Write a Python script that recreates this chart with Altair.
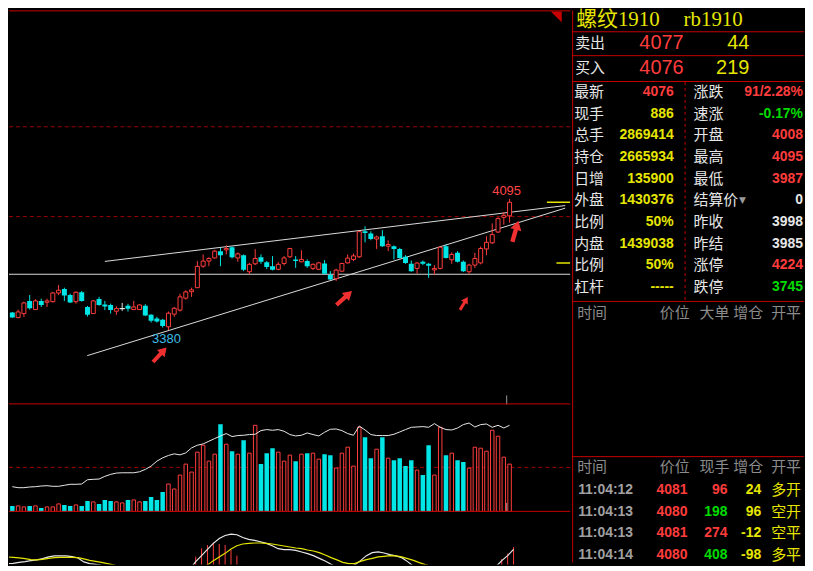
import altair as alt
import pandas as pd

# ------------------------------------------------------------------ data
open_ = [3476, 3448, 3470, 3539, 3492, 3539, 3532, 3535, 3582, 3604,
         3571, 3535, 3586, 3506, 3470, 3550, 3519, 3517, 3483, 3497,
         3512, 3492, 3492, 3512, 3463, 3443, 3436, 3398, 3467, 3489,
         3554, 3589, 3611, 3728, 3756, 3773, 3810, 3817, 3831, 3773,
         3788, 3698, 3741, 3777, 3749, 3728, 3711, 3743, 3779, 3765,
         3752, 3756, 3716, 3711, 3743, 3680, 3660, 3701, 3746, 3765,
         3779, 3918, 3906, 3876, 3891, 3837, 3837, 3822, 3779, 3741,
         3716, 3752, 3741, 3708, 3716, 3837, 3763, 3801, 3752, 3698,
         3734, 3746, 3822, 3855, 3914, 3994, 4002]
high = [3479, 3492, 3535, 3571, 3548, 3551, 3551, 3588, 3626, 3611,
        3578, 3591, 3593, 3512, 3544, 3561, 3539, 3524, 3510, 3528,
        3523, 3539, 3521, 3521, 3467, 3452, 3441, 3481, 3506, 3578,
        3597, 3611, 3756, 3792, 3777, 3817, 3828, 3842, 3835, 3803,
        3792, 3746, 3821, 3792, 3756, 3783, 3750, 3783, 3828, 3783,
        3815, 3765, 3743, 3752, 3761, 3701, 3714, 3746, 3792, 3797,
        3920, 3945, 3918, 3895, 3924, 3869, 3841, 3828, 3788, 3759,
        3750, 3759, 3746, 3734, 3835, 3846, 3804, 3810, 3759, 3741,
        3801, 3835, 3891, 3961, 3994, 4023, 4095]
low = [3447, 3445, 3452, 3492, 3489, 3506, 3506, 3530, 3571, 3539,
       3528, 3524, 3535, 3454, 3468, 3513, 3489, 3470, 3463, 3485,
       3481, 3489, 3489, 3456, 3421, 3421, 3394, 3380, 3452, 3481,
       3546, 3561, 3611, 3719, 3728, 3770, 3728, 3792, 3770, 3752,
       3701, 3684, 3734, 3741, 3712, 3705, 3706, 3732, 3773, 3719,
       3750, 3719, 3707, 3707, 3684, 3653, 3647, 3696, 3743, 3756,
       3773, 3858, 3869, 3822, 3833, 3810, 3765, 3770, 3741, 3698,
       3687, 3734, 3665, 3680, 3711, 3770, 3741, 3748, 3696, 3687,
       3719, 3738, 3788, 3849, 3909, 3954, 3965]
close = [3448, 3479, 3528, 3499, 3539, 3517, 3539, 3582, 3597, 3568,
         3530, 3586, 3539, 3463, 3539, 3517, 3508, 3489, 3497, 3497,
         3496, 3506, 3517, 3459, 3431, 3427, 3402, 3472, 3499, 3561,
         3588, 3599, 3727, 3756, 3770, 3810, 3788, 3824, 3777, 3795,
         3708, 3738, 3770, 3752, 3723, 3708, 3738, 3773, 3824, 3756,
         3765, 3728, 3738, 3746, 3687, 3656, 3707, 3743, 3772, 3784,
         3916, 3909, 3876, 3887, 3837, 3846, 3822, 3773, 3746, 3701,
         3745, 3741, 3730, 3716, 3831, 3773, 3792, 3752, 3701, 3734,
         3770, 3824, 3858, 3900, 3987, 4005, 4076]

volume = [6, 6, 5, 6, 6, 4, 5, 5, 8, 7,
          6, 7, 6, 11, 10, 8, 12, 11, 10, 9,
          12, 12, 10, 11, 15, 12, 20, 28, 23, 37,
          48, 40, 60, 67, 51, 58, 88, 68, 61, 58,
          72, 59, 87, 48, 59, 64, 60, 51, 57, 51,
          58, 59, 59, 53, 58, 57, 44, 59, 65, 46,
          85, 75, 54, 63, 75, 54, 52, 54, 46, 52,
          42, 37, 67, 37, 85, 57, 59, 52, 50, 44,
          65, 64, 61, 82, 76, 55, 48]
vol_ma = [25.3, 24.3, 24.3, 25, 25.3, 26, 26.3, 25.7, 25.7, 26.7,
          27.7, 27.7, 28, 32.3, 32.7, 33, 35.7, 37.7, 39, 39.3,
          39.3, 39.3, 40.3, 42.7, 46, 51, 54.3, 56.7, 58.3, 57.3,
          59.3, 64.3, 67, 68.3, 71, 73.7, 76.3, 78.7, 75.7, 76.7,
          77, 77.7, 78, 81.7, 82.7, 82, 82.7, 81, 77.7, 76.3,
          77, 79.3, 77.7, 76.3, 80, 83, 83.3, 81.7, 78.7, 77,
          86.3, 82.3, 77.7, 76.7, 76.7, 76.7, 78, 80.3, 82.7, 85,
          85.3, 85.7, 85, 88.7, 85, 82.7, 82.3, 84.3, 87.7, 89.3,
          85.3, 87.7, 88.3, 85, 87, 84.3, 87]
vol_level = [44.7]

dif = [38, 38.3, 39.3, 40, 41, 41.7, 43, 44.7, 45.7, 45.7,
       45.7, 45, 43.7, 39.7, 38, 37.3, 36.3, 33.3, 31.3, 29.7,
       25, 22, 19, 15, 10, 5, 2, 2, 6, 14,
       27.3, 32.3, 40, 46, 52.3, 58.3, 63.3, 66.3, 67.7, 67,
       64.3, 62.3, 61.3, 60, 58.3, 56, 53, 52, 52, 51.3,
       49.7, 48, 46, 43.3, 40.7, 37.3, 34.3, 33.3, 33.7, 36.7,
       41, 46, 49, 49.7, 48.7, 47, 45.7, 44, 40, 35.3,
       32, 28.7, 25, 22, 22, 20, 19, 18, 17, 18,
       20, 24, 29.7, 35, 41, 46, 52.3]
dea = [44.7, 44.3, 43.7, 43, 42, 41.7, 42.3, 43.3, 44, 44.3,
       44.3, 44.3, 44, 42.7, 41.3, 40.3, 39.3, 38, 36.7, 35.3,
       34.3, 32.7, 31.3, 30, 27, 24, 21, 19, 18, 19,
       22, 25, 28, 31.7, 36.7, 41, 44.7, 48.3, 52.7, 56,
       57.7, 58.3, 58.7, 58.7, 58.3, 57.7, 56.7, 55.7, 54.7, 53.7,
       53, 51.7, 50.7, 49, 46.7, 44, 41.7, 39.3, 38, 38,
       40.3, 42, 43.3, 44.7, 45.3, 46, 45.7, 44.7, 43, 41.3,
       39, 37, 35.3, 33.7, 32.3, 31.3, 30.3, 29.3, 28, 27,
       27, 27, 28, 29.7, 32.3, 34.3, 36.3]
macd_hist = [0, 0, 0, 0, 0, 0, 0, 0, 0, 0,
             0, 0, 0, 0, 0, 0, 0, 0, 0, 0,
             0, 0, 0, 0, 0, 0, 0, 0, 0, 0,
             30, 35, 45, 53.3, 56.7, 59.3, 57.7, 56.7, 51.7, 46,
             36.7, 30.7, 0, 0, 0, 0, 0, 0, 0, 0,
             0, 0, 0, 0, 0, 0, 0, 0, 0, 0,
             0, 34.3, 35, 35, 30.7, 0, 0, 0, 0, 0,
             0, 0, 0, 0, 0, 0, 0, 0, 0, 0,
             0, 0, 0, 34, 42.7, 48, 54.7]

dashed_levels = [4487, 3998]
solid_level = [3684]
marker_levels = [4076, 3745]
marker_from_k = [92.45, 94.1]
trend_id = ["upper", "upper", "lower", "lower"]
trend_k = [16.0, 95.62, 12.95, 95.62]
trend_p = [3754, 4058, 3241, 4044]
arrow_k = [25.5, 57.4, 78.1, 87.0]
arrow_p = [3246, 3555, 3525, 3918]
arrow_angle = [43, 48, 31, 16]
arrow_len = [20, 21, 15, 22]
cursor_k = [85.5]

title_name = "螺纹1910"
title_code = "rb1910"
quote_labels = ["卖出", "买入"]
quote_price = ["4077", "4076"]
quote_qty = ["44", "219"]
grid_left_labels = ["最新", "现手", "总手", "持仓", "日增", "外盘", "比例", "内盘", "比例", "杠杆"]
grid_left_values = ["4076", "886", "2869414", "2665934", "135900", "1430376", "50%", "1439038", "50%", "-----"]
grid_left_tone = ["rise", "qty", "qty", "qty", "qty", "qty", "qty", "qty", "qty", "qty"]
grid_right_labels = ["涨跌", "速涨", "开盘", "最高", "最低", "结算价", "昨收", "昨结", "涨停", "跌停"]
grid_right_values = ["91/2.28%", "-0.17%", "4008", "4095", "3987", "0", "3998", "3985", "4224", "3745"]
grid_right_tone = ["rise", "fall", "rise", "rise", "rise", "flat", "flat", "flat", "rise", "fall"]
header_top = ["时间", "价位", "大单", "增仓", "开平"]
header_bottom = ["时间", "价位", "现手", "增仓", "开平"]
trade_time = ["11:04:12", "11:04:13", "11:04:13", "11:04:14"]
trade_price = ["4081", "4080", "4081", "4080"]
trade_hand = [96, 198, 274, 408]
trade_hand_tone = ["rise", "fall", "rise", "fall"]
trade_oi = ["24", "96", "-12", "-98"]
trade_kind = ["多开", "空开", "空平", "多平"]

# ------------------------------------------------------------------ style
RED = "#ff3c3c"
CYAN = "#00e5e5"
WHITE = "#e6e6e6"
YELLOW = "#e6e600"
GREEN = "#00dc00"
GRAY = "#8c8c8c"
LINE_RED = "#c80000"
DASH_RED = "#9a0000"
LABEL_BLUE = "#3fbce8"
NUM_FONT = "Liberation Sans Narrow, Liberation Sans, Arial, sans-serif"
PLAIN_FONT = "Liberation Sans, Arial, sans-serif"
CJK_FONT = "Noto Sans CJK SC"
TITLE_FONT = "Liberation Serif, Noto Sans CJK SC"
TONE = {"rise": RED, "fall": GREEN, "flat": WHITE, "qty": YELLOW}

LEFT_W, RIGHT_W = 564, 233
PRICE_H, VOL_H, MACD_H = 396, 107, 52
TOTAL_H = PRICE_H + VOL_H + MACD_H

kscale = alt.Scale(domain=[0.283, 95.62], nice=False, zero=False)
pscale = alt.Scale(domain=[2975.5, 5120.7], nice=False, zero=False)
vscale = alt.Scale(domain=[0, 107], nice=False, zero=False)
mscale = alt.Scale(domain=[37, 89], nice=False, zero=False)

n = len(close)
df = pd.DataFrame({"k": list(range(n)), "open": open_, "high": high, "low": low,
                   "close": close, "volume": volume, "vol_ma": vol_ma,
                   "dif": dif, "dea": dea, "hist": macd_hist})
df["dir"] = ["up" if c > o else ("down" if c < o else "flat") for o, c in zip(open_, close)]
df["top"] = df[["open", "close"]].max(axis=1)
df["bot"] = df[["open", "close"]].min(axis=1)
df["col"] = df["dir"].map({"up": RED, "down": CYAN, "flat": WHITE})

X = alt.X("k:Q", scale=kscale, axis=None)


def PY(field):
    return alt.Y(field, scale=pscale, axis=None)


one = pd.DataFrame({"a": [0]})


def frame_rule(y, width, color=LINE_RED, w=1):
    return alt.Chart(one).mark_rule(color=color, strokeWidth=w).encode(
        x=alt.value(0), x2=alt.value(width), y=alt.value(y))


base = alt.Chart(df)

# ---------------- price panel
dashed = alt.Chart(pd.DataFrame({"p": dashed_levels})).mark_rule(
    color=DASH_RED, strokeDash=[4, 3], strokeWidth=1).encode(y=PY("p:Q"))
solid = alt.Chart(pd.DataFrame({"p": solid_level})).mark_rule(
    color="#d8d8d8", strokeWidth=1.2).encode(y=PY("p:Q"))
trend = alt.Chart(pd.DataFrame({"line": trend_id, "k": trend_k, "p": trend_p})).mark_line(
    color="#dcdcdc", strokeWidth=1, clip=True).encode(x=X, y=PY("p:Q"), detail="line:N")
wicks = base.mark_rule(strokeWidth=1, clip=True).encode(
    x=X, y=PY("low:Q"), y2="high:Q", color=alt.Color("col:N", scale=None))
up_body = base.transform_filter("datum.dir == 'up'").mark_bar(
    size=4, fill="#000000", stroke=RED, strokeWidth=1, clip=True).encode(
    x=X, y=PY("bot:Q"), y2="top:Q")
down_body = base.transform_filter("datum.dir == 'down'").mark_bar(
    size=5, color=CYAN, clip=True).encode(x=X, y=PY("bot:Q"), y2="top:Q")
flat_body = base.transform_filter("datum.dir == 'flat'").mark_bar(
    size=5, color=WHITE, stroke=WHITE, strokeWidth=1, clip=True).encode(
    x=X, y=PY("bot:Q"), y2="top:Q")
markers = alt.Chart(pd.DataFrame({"p": marker_levels, "k0": marker_from_k})).mark_rule(
    color=YELLOW, strokeWidth=1.5, clip=True).encode(
    x=alt.X("k0:Q", scale=kscale, axis=None), x2=alt.value(LEFT_W), y=PY("p:Q"))

imax = int(df["high"].idxmax())
imin = int(df["low"].idxmin())
hi_df = pd.DataFrame({"k": [imax], "p": [high[imax]], "t": [str(high[imax])]})
lo_df = pd.DataFrame({"k": [imin], "p": [low[imin]], "t": [str(low[imin])]})
hi_lbl = alt.Chart(hi_df).mark_text(color="#ff4646", fontSize=13, font=PLAIN_FONT,
                                    dy=-8, dx=-3, baseline="middle").encode(
    x=X, y=PY("p:Q"), text="t:N")
lo_lbl = alt.Chart(lo_df).mark_text(color=LABEL_BLUE, fontSize=13, font=PLAIN_FONT,
                                    dy=9, dx=-2, baseline="middle").encode(
    x=X, y=PY("p:Q"), text="t:N")

ARROW = "M-0.2,1L0.2,1L0.2,-0.15L0.52,-0.15L0,-1L-0.52,-0.15L-0.2,-0.15Z"
arr = pd.DataFrame({"k": arrow_k, "p": arrow_p, "ang": arrow_angle, "len": arrow_len})
arr["sz"] = arr["len"] ** 2
arrows = alt.Chart(arr).mark_point(shape=ARROW, filled=True, color="#f03030",
                                   opacity=1, strokeWidth=0, clip=True).encode(
    x=X, y=PY("p:Q"), angle=alt.Angle("ang:Q", scale=None),
    size=alt.Size("sz:Q", scale=None))

corner = alt.Chart(one).mark_point(shape="M-1,-1L1,-1L1,1Z", filled=True, color=LINE_RED,
                                   opacity=1, size=121, strokeWidth=0).encode(
    x=alt.value(550), y=alt.value(6.5))
cursor_df = pd.DataFrame({"k": cursor_k})
cursor_p = alt.Chart(cursor_df).mark_rule(color="#9a9a9a", strokeWidth=1).encode(
    x=X, y=alt.value(PRICE_H - 9), y2=alt.value(PRICE_H))

price = alt.layer(
    dashed, solid, trend, wicks, up_body, down_body, flat_body, markers,
    hi_lbl, lo_lbl, arrows, cursor_p,
    frame_rule(0.5, LEFT_W), frame_rule(PRICE_H - 0.5, LEFT_W), corner,
).properties(width=LEFT_W, height=PRICE_H)

# ---------------- volume panel
VY = alt.Y("volume:Q", scale=vscale, axis=None)
vol_line = alt.Chart(pd.DataFrame({"v": vol_level})).mark_rule(
    color=DASH_RED, strokeDash=[4, 3], strokeWidth=1).encode(
    y=alt.Y("v:Q", scale=vscale, axis=None))
vol_up = base.transform_filter("datum.dir != 'down'").mark_bar(
    size=3.5, fill="#000000", stroke=RED, strokeWidth=1, clip=True).encode(
    x=X, y=VY, y2=alt.datum(0))
vol_down = base.transform_filter("datum.dir == 'down'").mark_bar(
    size=4.5, color=CYAN, clip=True).encode(x=X, y=VY, y2=alt.datum(0))
vol_ma_line = base.mark_line(color="#e8e8e8", strokeWidth=1, clip=True).encode(
    x=X, y=alt.Y("vol_ma:Q", scale=vscale, axis=None))
cursor_v = alt.Chart(cursor_df).mark_rule(color="#9a9a9a", strokeWidth=1).encode(
    x=X, y=alt.value(VOL_H - 9), y2=alt.value(VOL_H))
volc = alt.layer(
    vol_line, vol_up, vol_down, vol_ma_line, cursor_v, frame_rule(VOL_H - 0.5, LEFT_W)
).properties(width=LEFT_W, height=VOL_H)

# ---------------- MACD panel
hist = base.transform_filter("datum.hist > 0").mark_rule(
    color=RED, strokeWidth=1, clip=True).encode(
    x=X, y=alt.Y("hist:Q", scale=mscale, axis=None), y2=alt.datum(0))
dif_line = base.mark_line(color="#e8e8e8", strokeWidth=1.2, clip=True).encode(
    x=X, y=alt.Y("dif:Q", scale=mscale, axis=None))
dea_line = base.mark_line(color=YELLOW, strokeWidth=1.2, clip=True).encode(
    x=X, y=alt.Y("dea:Q", scale=mscale, axis=None))
macdc = alt.layer(hist, dif_line, dea_line).properties(width=LEFT_W, height=MACD_H)

# ---------------- right info panel
quote = pd.DataFrame({"row": [0, 1], "lab": quote_labels, "price": quote_price, "qty": quote_qty})
grid = pd.DataFrame({"row": list(range(len(grid_left_labels))),
                     "lab1": grid_left_labels, "val1": grid_left_values,
                     "val1_c": [TONE[t] for t in grid_left_tone],
                     "lab2": grid_right_labels, "val2": grid_right_values,
                     "val2_c": [TONE[t] for t in grid_right_tone]})
heads = pd.DataFrame({"row": [0, 1]})
for i in range(5):
    heads[f"h{i}"] = [header_top[i], header_bottom[i]]
trades = pd.DataFrame({"row": list(range(len(trade_time))), "time": trade_time,
                       "price": trade_price, "hand": [str(h) for h in trade_hand],
                       "hand_c": [TONE[t] for t in trade_hand_tone],
                       "oi": trade_oi, "kind": trade_kind})
settle_mark = pd.DataFrame({"row": [grid_right_labels.index("结算价")], "t": ["▼"]})

quote_y = alt.Scale(domain=[0, 1], range=[33, 58], nice=False, zero=False)
grid_y = alt.Scale(domain=[0, 9], range=[82, 278.2], nice=False, zero=False)
head_y = alt.Scale(domain=[0, 1], range=[304, 459], nice=False, zero=False)
trade_y = alt.Scale(domain=[0, 3], range=[482, 547], nice=False, zero=False)


def col_text(frame, field, x, align, yscale, size, font, weight="normal", color=None):
    kw = dict(align=align, baseline="middle", fontSize=size, font=font,
              fontWeight=weight, clip=True)
    enc = dict(x=alt.value(x), y=alt.Y("row:Q", scale=yscale, axis=None),
               text=alt.Text(f"{field}:N"))
    if color is None:
        enc["color"] = alt.Color(f"{field}_c:N", scale=None)
    else:
        kw["color"] = color
    return alt.Chart(frame).mark_text(**kw).encode(**enc)


title1 = alt.Chart(pd.DataFrame({"t": [title_name]})).mark_text(
    align="left", baseline="middle", font=TITLE_FONT, fontSize=21, color=YELLOW).encode(
    x=alt.value(4), y=alt.value(10), text="t:N")
title2 = alt.Chart(pd.DataFrame({"t": [title_code]})).mark_text(
    align="left", baseline="middle", font=TITLE_FONT, fontSize=21, color=YELLOW).encode(
    x=alt.value(112), y=alt.value(10), text="t:N")

right_layers = [
    title1, title2,
    col_text(quote, "lab", 3, "left", quote_y, 15, CJK_FONT, color=WHITE),
    col_text(quote, "price", 112, "right", quote_y, 20, PLAIN_FONT, color=RED),
    col_text(quote, "qty", 178, "right", quote_y, 20, PLAIN_FONT, color=YELLOW),
    col_text(grid, "lab1", 2, "left", grid_y, 15, CJK_FONT, color=WHITE),
    col_text(grid, "val1", 102, "right", grid_y, 14, NUM_FONT, weight="bold"),
    col_text(grid, "lab2", 122, "left", grid_y, 15, CJK_FONT, color=WHITE),
    col_text(grid, "val2", 232, "right", grid_y, 14, NUM_FONT, weight="bold"),
    col_text(settle_mark, "t", 171, "center", grid_y, 9, "DejaVu Sans", color="#9a9a9a"),
]
for i, xpos in enumerate([5, 88, 128, 162, 200]):
    right_layers.append(col_text(heads, f"h{i}", xpos, "left", head_y, 15, CJK_FONT, color=GRAY))
right_layers += [
    col_text(trades, "time", 6, "left", trade_y, 14, NUM_FONT, weight="bold", color="#a0a0a0"),
    col_text(trades, "price", 116, "right", trade_y, 14, NUM_FONT, weight="bold", color=RED),
    col_text(trades, "hand", 156, "right", trade_y, 14, NUM_FONT, weight="bold"),
    col_text(trades, "oi", 190, "right", trade_y, 14, NUM_FONT, weight="bold", color=YELLOW),
    col_text(trades, "kind", 200, "left", trade_y, 15, CJK_FONT, color=YELLOW),
]
for ysep in [21, 45, 71, 292, 448]:
    right_layers.append(frame_rule(ysep + 0.5, RIGHT_W))
right_layers.append(alt.Chart(one).mark_rule(color=LINE_RED, strokeWidth=1).encode(
    x=alt.value(0.5), y=alt.value(0), y2=alt.value(TOTAL_H)))
right_layers.append(alt.Chart(one).mark_rule(color=LINE_RED, strokeWidth=1, strokeDash=[3, 3]).encode(
    x=alt.value(113.5), y=alt.value(72), y2=alt.value(292)))

right = alt.layer(*right_layers).resolve_scale(y="independent").properties(
    width=RIGHT_W, height=TOTAL_H)

left = alt.vconcat(price, volc, macdc, spacing=0)
chart = alt.hconcat(left, right, spacing=0).properties(
    padding=0, background="#000000").configure_view(strokeWidth=0)

chart.save("out.html", embed_options={"renderer": "svg", "actions": False})
